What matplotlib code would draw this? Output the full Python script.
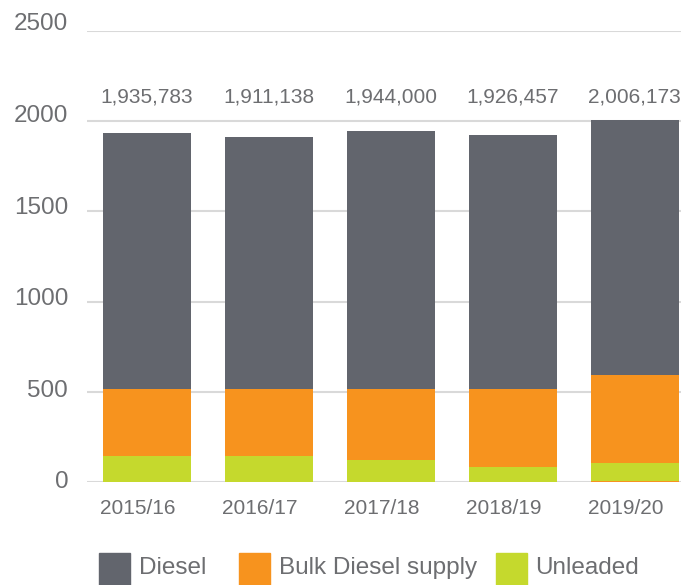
import matplotlib.pyplot as plt
from matplotlib.patches import Rectangle
from matplotlib.transforms import ScaledTranslation

plt.rcParams['font.family'] = ['Liberation Sans', 'DejaVu Sans']

years = ['2015/16', '2016/17', '2017/18', '2018/19', '2019/20']
totals = [1935783, 1911138, 1944000, 1926457, 2006173]

# values in thousands, stacked bottom to top
bulk_low = [0, 0, 0, 0, 5]
unleaded = [146, 146, 124, 85, 102]
bulk = [367, 367, 389, 428, 484]
diesel = [1423, 1398, 1431, 1413, 1415]

legend_names = ['Diesel', 'Bulk Diesel supply', 'Unleaded']

c_diesel = '#62656d'
c_bulk = '#f7931e'
c_unl = '#c5d92d'
c_text = '#6d6e71'

W, H = 688, 585
fig = plt.figure(figsize=(W / 100, H / 100), dpi=100)
ax = fig.add_axes([87 / W, 1 - 482 / H, 594 / W, 451 / H])

x = list(range(len(years)))
w = 0.72
b0 = bulk_low
b1 = [a + b for a, b in zip(b0, unleaded)]
b2 = [a + b for a, b in zip(b1, bulk)]

ax.bar(x, bulk_low, w, color=c_bulk, zorder=3)
ax.bar(x, unleaded, w, bottom=b0, color=c_unl, zorder=3)
ax.bar(x, bulk, w, bottom=b1, color=c_bulk, zorder=3)
ax.bar(x, diesel, w, bottom=b2, color=c_diesel, zorder=3)

for i, t in enumerate(totals):
    ax.text(i, 2135, f'{t:,}', ha='center', va='center', fontsize=15, color=c_text)

ax.set_xlim(-0.49, 4.38)
ax.set_ylim(0, 2500)
ax.set_yticks([0, 500, 1000, 1500, 2000, 2500])
ax.set_xticks(x)
ax.set_xticklabels(years)
ax.grid(axis='y', color='#d9d9d9', linewidth=1.5, zorder=0)
ax.set_axisbelow(True)
for s in ax.spines.values():
    s.set_visible(False)
ax.tick_params(axis='y', length=0, pad=13.5, labelsize=17.5, labelcolor=c_text)
ax.tick_params(axis='x', length=0, pad=12, labelsize=15, labelcolor=c_text)

# small nudges so tick labels sit like the original
for i, lab in enumerate(ax.get_yticklabels()):
    lab.set_transform(lab.get_transform() +
                      ScaledTranslation(0, (2 + 1.4 * i) / 100, fig.dpi_scale_trans))
for lab in ax.get_xticklabels():
    lab.set_transform(lab.get_transform() +
                      ScaledTranslation(-9 / 100, 0, fig.dpi_scale_trans))

# legend drawn by hand
patch_x = [99, 239, 496]
text_x = [139, 279, 535]
for px, tx, name, col in zip(patch_x, text_x, legend_names, [c_diesel, c_bulk, c_unl]):
    fig.patches.append(Rectangle((px / W, 0), 31 / W, 32 / H, transform=fig.transFigure,
                                 color=col, figure=fig))
    fig.text(tx / W, 1 - 568 / H, name, ha='left', va='center', fontsize=17.5, color=c_text)

fig.savefig('out.png', dpi=100)
